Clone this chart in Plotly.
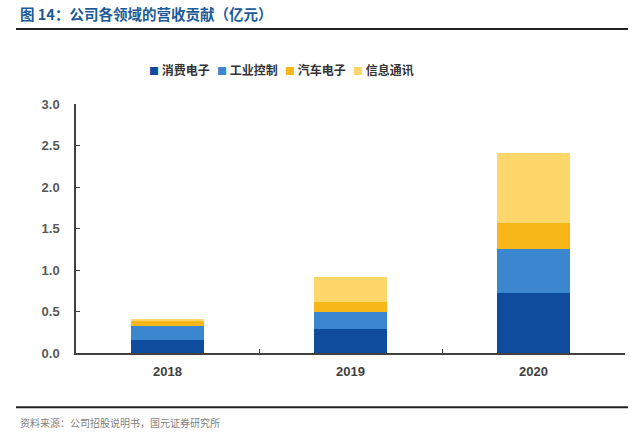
import plotly.graph_objects as go

years = ["2018", "2019", "2020"]
consumer = [0.16, 0.29, 0.72]
industrial = [0.16, 0.21, 0.53]
auto = [0.07, 0.12, 0.32]
telecom = [0.02, 0.30, 0.84]

series_names = ["消费电子", "工业控制", "汽车电子", "信息通讯"]
colors = ["#0F4C9E", "#3A86CF", "#F7B718", "#FDD76A"]

# plot area in pixels
L, R, T, B = 76, 625, 104, 352.7
W, H = R - L, B - T


def px_x(x):
    return (x - L) / W


def px_y(y):
    return (B - y) / H


fig = go.Figure()
for name, vals, c in zip(series_names, [consumer, industrial, auto, telecom], colors):
    fig.add_trace(go.Bar(x=years, y=vals, name=name, marker=dict(color=c, line=dict(width=0)),
                         width=0.4))

fig.update_layout(
    barmode="stack",
    width=640, height=437,
    margin=dict(l=L, r=640 - R, t=T, b=437 - B),
    plot_bgcolor="white", paper_bgcolor="white",
    font=dict(family="Liberation Sans, Noto Sans CJK SC", color="#595959"),
    showlegend=False,
    xaxis=dict(showline=True, linecolor="#404040", linewidth=1.5, ticks="inside", ticklen=4,
               tickson="boundaries", tickcolor="#404040", ticklabelstandoff=6,
               tickfont=dict(family="Liberation Sans", size=13, color="#404040", weight="bold")),
    yaxis=dict(range=[0, 3.0], dtick=0.5, tickformat=".1f", showgrid=False, zeroline=False,
               showline=True, linecolor="#404040", linewidth=1.5, ticks="inside", ticklen=4,
               tickcolor="#404040", ticklabelstandoff=12,
               tickfont=dict(family="Liberation Sans", size=13, color="#595959", weight="bold")),
)

# legend drawn as text so it stays compact like the original
legend_x = [147, 215, 283, 351]
for name, c, lx in zip(series_names, colors, legend_x):
    fig.add_annotation(text=f'<span style="color:{c};font-size:10px">■</span> {name}',
                       xref="paper", yref="paper", x=px_x(lx), y=px_y(70),
                       xanchor="left", yanchor="middle", showarrow=False,
                       font=dict(family="Noto Sans CJK SC", size=12, color="#333333", weight="bold"))

fig.add_annotation(text="图 14：公司各领域的营收贡献（亿元）", xref="paper", yref="paper",
                   x=px_x(18), y=px_y(14), xanchor="left", yanchor="middle",
                   showarrow=False,
                   font=dict(family="Noto Sans CJK SC", size=14.5, color="#1D5A97", weight="bold"))
fig.add_annotation(text="资料来源：公司招股说明书，国元证券研究所", xref="paper", yref="paper",
                   x=px_x(18), y=px_y(422), xanchor="left", yanchor="middle",
                   showarrow=False,
                   font=dict(family="Noto Sans CJK SC", size=10, color="#7F7F7F"))

for ly in (29, 407):
    fig.add_shape(type="line", xref="paper", yref="paper",
                  x0=px_x(16), x1=px_x(628), y0=px_y(ly), y1=px_y(ly),
                  line=dict(color="#222222", width=2))

fig.write_html("out.html", config={"displayModeBar": False},
               post_script="document.body.style.margin='0';")
